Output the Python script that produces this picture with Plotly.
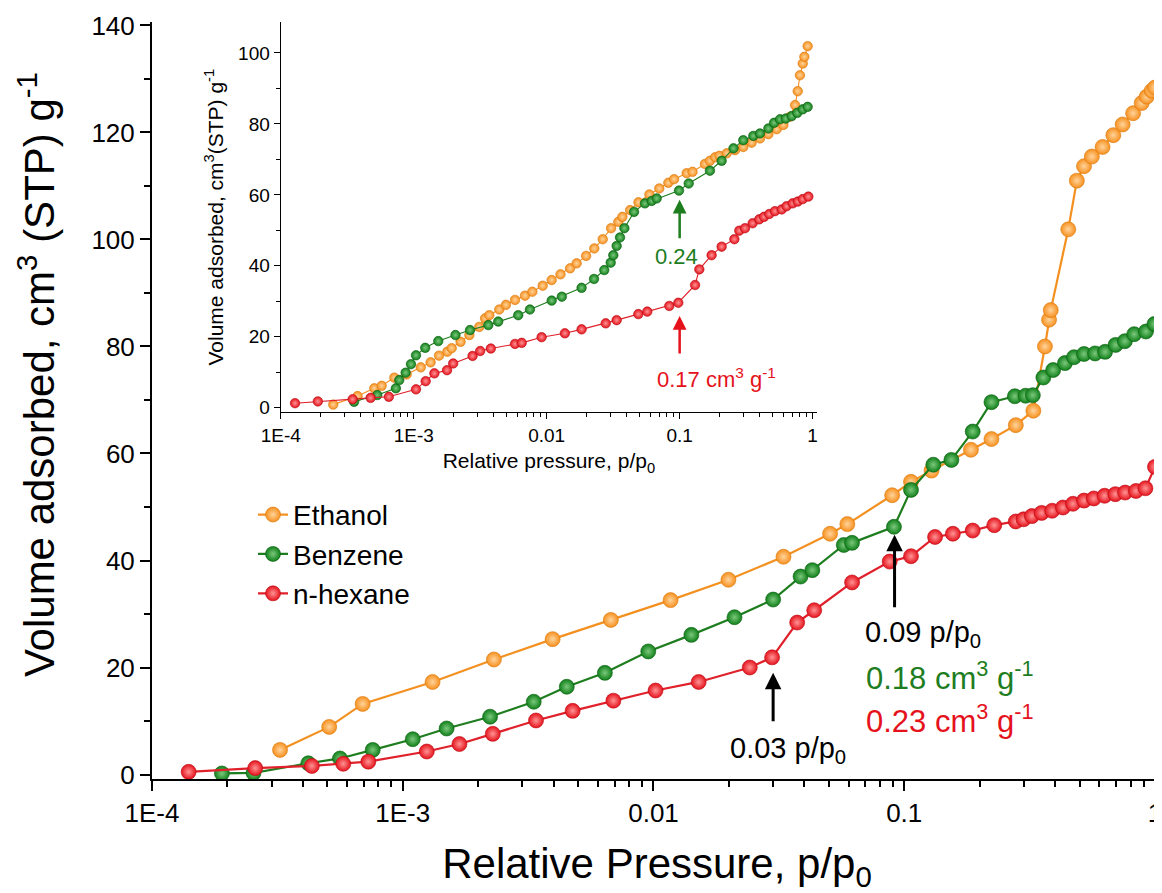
import numpy as np
import plotly.graph_objects as go

# ---------------- main plot data ----------------
eth_x = [3.24e-4, 5.09e-4, 6.92e-4, 1.315e-3, 2.31e-3, 3.96e-3, 6.76e-3, 0.0117, 0.0199, 0.0330,
         0.0506, 0.0593, 0.0895, 0.1064, 0.1285, 0.1845, 0.2228, 0.2786, 0.3273, 0.364,
         0.378, 0.384, 0.451, 0.488, 0.521, 0.560, 0.618, 0.682, 0.743, 0.818,
         0.885, 0.927, 0.970, 1.0]
eth_y = [4.6, 8.9, 13.2, 17.3, 21.5, 25.3, 28.9, 32.6, 36.4, 40.7,
         45.0, 46.8, 52.2, 54.7, 56.8, 60.7, 62.7, 65.3, 68.0, 80.0,
         85.0, 86.8, 101.9, 111.0, 113.7, 115.5, 117.3, 119.5, 121.5, 123.6,
         125.5, 126.7, 127.8, 128.4]

ben_x = [1.90e-4, 2.54e-4, 4.20e-4, 5.62e-4, 7.59e-4, 1.096e-3, 1.496e-3, 2.23e-3, 3.33e-3, 4.51e-3,
         6.40e-3, 9.53e-3, 0.01416, 0.02104, 0.0300, 0.0386, 0.0430, 0.0574, 0.0619, 0.0910,
         0.1064, 0.1306, 0.1542, 0.1875, 0.2228, 0.2761, 0.3048, 0.3258, 0.3589, 0.3926,
         0.4375, 0.4753, 0.5212, 0.5768, 0.6324, 0.6966, 0.7586, 0.8260, 0.9204, 0.995]
ben_y = [0.2, 0.3, 2.1, 3.0, 4.6, 6.6, 8.6, 10.8, 13.6, 16.4,
         19.0, 23.0, 26.1, 29.4, 32.7, 37.0, 38.2, 42.9, 43.3, 46.3,
         53.2, 57.9, 58.8, 64.1, 69.6, 70.7, 70.8, 70.9, 74.2, 75.6,
         76.9, 78.0, 78.6, 78.7, 79.0, 80.3, 81.0, 82.3, 82.8, 84.2]

hex_x = [1.40e-4, 2.58e-4, 4.34e-4, 5.79e-4, 7.29e-4, 1.247e-3, 1.683e-3, 2.286e-3, 3.40e-3, 4.76e-3,
         6.92e-3, 0.01019, 0.01514, 0.02421, 0.02972, 0.03741, 0.04375, 0.06194, 0.0875, 0.1064,
         0.1327, 0.1563, 0.1875, 0.2286, 0.2786, 0.2992, 0.3228, 0.3532, 0.3890, 0.4295,
         0.4710, 0.5212, 0.5702, 0.6295, 0.6950, 0.7603, 0.8395, 0.9162, 1.0]
hex_y = [0.5, 1.2, 1.6, 2.0, 2.4, 4.3, 5.7, 7.6, 10.1, 11.9,
         13.8, 15.7, 17.3, 20.0, 21.9, 28.4, 30.7, 35.9, 39.8, 40.8,
         44.4, 45.0, 45.6, 46.6, 47.3, 47.7, 48.3, 48.9, 49.3, 49.9,
         50.6, 51.2, 51.6, 52.1, 52.4, 52.7, 53.0, 53.5, 57.5]

# ---------------- inset data ----------------
in_eth_x = [2.48e-4, 3.78e-4, 5.05e-4, 5.74e-4, 7.15e-4, 8.85e-4, 1.13e-3, 1.34e-3, 1.55e-3, 1.79e-3,
            1.93e-3, 2.25e-3, 2.62e-3, 3.11e-3, 3.44e-3, 3.70e-3, 4.40e-3, 4.94e-3, 5.78e-3, 6.87e-3,
            7.80e-3, 9.33e-3, 0.0109, 0.0127, 0.0150, 0.0168, 0.0198, 0.0228, 0.0264, 0.0305,
            0.0346, 0.0371, 0.0424, 0.0490, 0.0592, 0.0703, 0.0822, 0.0908, 0.113, 0.125,
            0.155, 0.169, 0.185, 0.199, 0.226, 0.261, 0.301, 0.348, 0.402, 0.465,
            0.537, 0.603, 0.676, 0.738, 0.773, 0.803, 0.843, 0.867, 0.918]
in_eth_y = [0.9, 3.3, 5.5, 6.2, 8.5, 9.4, 11.4, 12.8, 14.7, 15.8,
            16.8, 18.6, 20.5, 22.8, 25.2, 26.1, 27.7, 29.0, 30.4, 31.6,
            32.7, 34.4, 36.0, 37.6, 39.3, 40.7, 42.8, 44.9, 47.5, 50.6,
            52.4, 53.8, 55.7, 57.9, 60.1, 61.8, 63.4, 64.4, 66.1, 66.5,
            68.7, 69.6, 70.6, 71.0, 71.7, 72.6, 73.5, 74.7, 75.9, 77.1,
            78.5, 79.7, 82.0, 85.3, 89.2, 93.7, 97.0, 98.9, 101.9]

in_ben_x = [3.56e-4, 5.32e-4, 7.34e-4, 7.78e-4, 8.69e-4, 9.53e-4, 1.04e-3, 1.22e-3, 1.53e-3, 2.06e-3,
            2.65e-3, 3.64e-3, 4.32e-3, 6.11e-3, 7.48e-3, 0.0109, 0.0130, 0.0183, 0.0227, 0.0271,
            0.0303, 0.0317, 0.0336, 0.0356, 0.0384, 0.0454, 0.0548, 0.0617, 0.0672, 0.0989,
            0.117, 0.169, 0.207, 0.254, 0.301, 0.358, 0.402, 0.465, 0.513, 0.569,
            0.628, 0.697, 0.767, 0.843, 0.918]
in_ben_y = [1.7, 3.6, 5.5, 7.8, 9.9, 12.3, 14.8, 16.9, 18.8, 20.5,
            21.9, 23.3, 24.3, 26.1, 27.7, 30.2, 31.3, 33.8, 36.3, 38.8,
            40.9, 43.0, 45.6, 48.0, 50.6, 55.2, 57.6, 58.3, 59.0, 61.2,
            63.2, 66.8, 69.6, 73.1, 75.4, 76.6, 77.3, 78.7, 80.3, 81.3,
            81.5, 82.2, 83.1, 84.1, 84.8]

in_hex_x = [1.28e-4, 1.9e-4, 3.47e-4, 4.74e-4, 6.5e-4, 1.04e-3, 1.23e-3, 1.43e-3, 1.78e-3, 1.98e-3,
            2.77e-3, 3.16e-3, 3.8e-3, 5.78e-3, 6.49e-3, 9.16e-3, 0.0137, 0.0183, 0.0278, 0.0336,
            0.0489, 0.0571, 0.0836, 0.0977, 0.1306, 0.1406, 0.174, 0.207, 0.258, 0.281,
            0.310, 0.354, 0.397, 0.431, 0.472, 0.521, 0.586, 0.638, 0.708, 0.773,
            0.843, 0.929]
in_hex_y = [1.3, 1.8, 2.4, 2.8, 3.1, 5.2, 7.5, 9.7, 10.6, 12.5,
            14.6, 16.0, 16.7, 18.0, 18.3, 19.9, 21.0, 22.1, 23.8, 24.7,
            26.4, 27.1, 28.7, 29.6, 34.6, 39.0, 43.0, 45.4, 47.5, 49.9,
            50.6, 52.0, 53.1, 53.8, 54.6, 55.4, 55.9, 56.8, 57.6, 58.1,
            58.8, 59.5]

x_tickvals = [1e-4, 1e-3, 1e-2, 1e-1, 1]
x_ticktext = ["1E-4", "1E-3", "0.01", "0.1", "1"]

FONT = "Liberation Sans, Arial, Helvetica, sans-serif"

STYLE = {
    "Ethanol": dict(fill="#F7901E", hi="#FFD49C", edge="#D9780E", line="#F39020"),
    "Benzene": dict(fill="#10801A", hi="#7CC87C", edge="#0B5E0F", line="#1E7D1E"),
    "n-hexane": dict(fill="#E5121C", hi="#FF9494", edge="#B80C14", line="#E0202A"),
}


def mk(name, size, lw):
    s = STYLE[name]
    return dict(
        marker=dict(color=s["fill"], size=size,
                    gradient=dict(type="radial", color=s["hi"]),
                    line=dict(color=s["edge"], width=0.6)),
        line=dict(color=s["line"], width=lw),
    )


fig = go.Figure()
for name, xs, ys in [("Ethanol", eth_x, eth_y), ("Benzene", ben_x, ben_y), ("n-hexane", hex_x, hex_y)]:
    fig.add_trace(go.Scatter(x=xs, y=ys, name=name, mode="lines+markers",
                             xaxis="x", yaxis="y", **mk(name, 15, 2.2)))

for name, xs, ys in [("Ethanol", in_eth_x, in_eth_y), ("Benzene", in_ben_x, in_ben_y),
                     ("n-hexane", in_hex_x, in_hex_y)]:
    fig.add_trace(go.Scatter(x=xs, y=ys, name=name, mode="lines+markers", showlegend=False,
                             xaxis="x2", yaxis="y2", **mk(name, 9.5, 1.1)))

axis_common = dict(showline=True, linecolor="black", ticks="outside", tickcolor="black",
                   showgrid=False, zeroline=False, mirror=False, automargin=False)

# The page body has an 8px default margin, so the figure is 8px smaller than the window
fig.update_layout(
    width=1154, height=885,
    margin=dict(l=144, r=0, t=14, b=114),
    paper_bgcolor="white", plot_bgcolor="white",
    font=dict(family=FONT, color="black"),
    xaxis=dict(type="log", range=[-4, 0.028], linewidth=2, ticklen=10, tickwidth=2,
               tickvals=x_tickvals, ticktext=x_ticktext, tickfont=dict(size=26),
               ticklabeloverflow="allow",
               minor=dict(ticks="outside", ticklen=6, tickwidth=2, tickcolor="black", dtick="D1", showgrid=False),
               title=dict(text="Relative Pressure, p/p<sub>0</sub>", font=dict(size=42), standoff=24),
               **axis_common),
    yaxis=dict(range=[-0.84, 140.65], tick0=0, dtick=20, linewidth=2, ticklen=10, tickwidth=2,
               tickfont=dict(size=26),
               minor=dict(ticks="outside", ticklen=6, tickwidth=2, tickcolor="black", dtick=10, showgrid=False),
               **axis_common),
    xaxis2=dict(type="log", domain=[0.1275, 0.6584], anchor="y2", range=[-4, 0.033],
                linewidth=1.3, ticklen=6, tickwidth=1.3,
                tickvals=x_tickvals, ticktext=x_ticktext, tickfont=dict(size=19),
                minor=dict(ticks="outside", ticklen=3.5, tickwidth=1.2, tickcolor="black", dtick="D1", showgrid=False),
                title=dict(text="Relative pressure, p/p<sub>0</sub>", font=dict(size=21), standoff=8),
                **axis_common),
    yaxis2=dict(domain=[0.4844, 1.0], anchor="x2", range=[-1.27, 108.7], tick0=0, dtick=20,
                linewidth=1.3, ticklen=6, tickwidth=1.3, tickfont=dict(size=19),
                minor=dict(ticks="outside", ticklen=3.5, tickwidth=1.2, tickcolor="black", dtick=10, showgrid=False),
                title=dict(text="Volume adsorbed, cm<sup>3</sup>(STP) g<sup>-1</sup>", font=dict(size=21), standoff=8),
                **axis_common),
    legend=dict(x=0.1, y=0.382, xanchor="left", yanchor="top", bgcolor="rgba(0,0,0,0)",
                font=dict(size=28, family=FONT), tracegroupgap=0),
    showlegend=True,
)

# main y-axis title (placed off-centre as in the reference)
fig.add_annotation(text="Volume adsorbed, cm<sup>3</sup> (STP) g<sup>-1</sup>", xref="paper", yref="paper",
                   x=-0.1145, y=0.534, textangle=-90, showarrow=False,
                   xanchor="center", yanchor="middle", font=dict(size=42, family=FONT, color="black"))

L = np.log10
annots = [
    # main arrows
    dict(x=L(0.0300), y=19.0, xref="x", yref="y", ax=0, ay=50, color="black", w=3),
    dict(x=L(0.0915), y=44.8, xref="x", yref="y", ax=0, ay=74, color="black", w=3),
    # inset arrows
    dict(x=L(0.1), y=58.6, xref="x2", yref="y2", ax=0, ay=40, color="#1E7D1E", w=2.5),
    dict(x=L(0.1), y=25.9, xref="x2", yref="y2", ax=0, ay=39, color="#E5121C", w=2.5),
]
for a in annots:
    fig.add_annotation(x=a["x"], y=a["y"], xref=a["xref"], yref=a["yref"], text="",
                       showarrow=True, ax=a["ax"], ay=a["ay"], arrowhead=2, arrowsize=1.1,
                       arrowwidth=a["w"], arrowcolor=a["color"])

texts = [
    ("0.03 p/p<sub>0</sub>", L(0.0344), 4.6, "x", "y", 29, "black"),
    ("0.09 p/p<sub>0</sub>", L(0.119), 26.3, "x", "y", 29, "black"),
    ("0.18 cm<sup>3</sup> g<sup>-1</sup>", L(0.152), 18.4, "x", "y", 31, "#1E7D1E"),
    ("0.23 cm<sup>3</sup> g<sup>-1</sup>", L(0.152), 10.4, "x", "y", 31, "#E5121C"),
    ("0.24", L(0.0955), 42.5, "x2", "y2", 22, "#1E7D1E"),
    ("0.17 cm<sup>3</sup> g<sup>-1</sup>", L(0.19), 8.4, "x2", "y2", 22, "#E5121C"),
]
for t, x, y, xr, yr, sz, c in texts:
    fig.add_annotation(x=x, y=y, xref=xr, yref=yr, text=t, showarrow=False,
                       xanchor="center", yanchor="middle", font=dict(size=sz, color=c, family=FONT))

fig.write_html("out.html")
